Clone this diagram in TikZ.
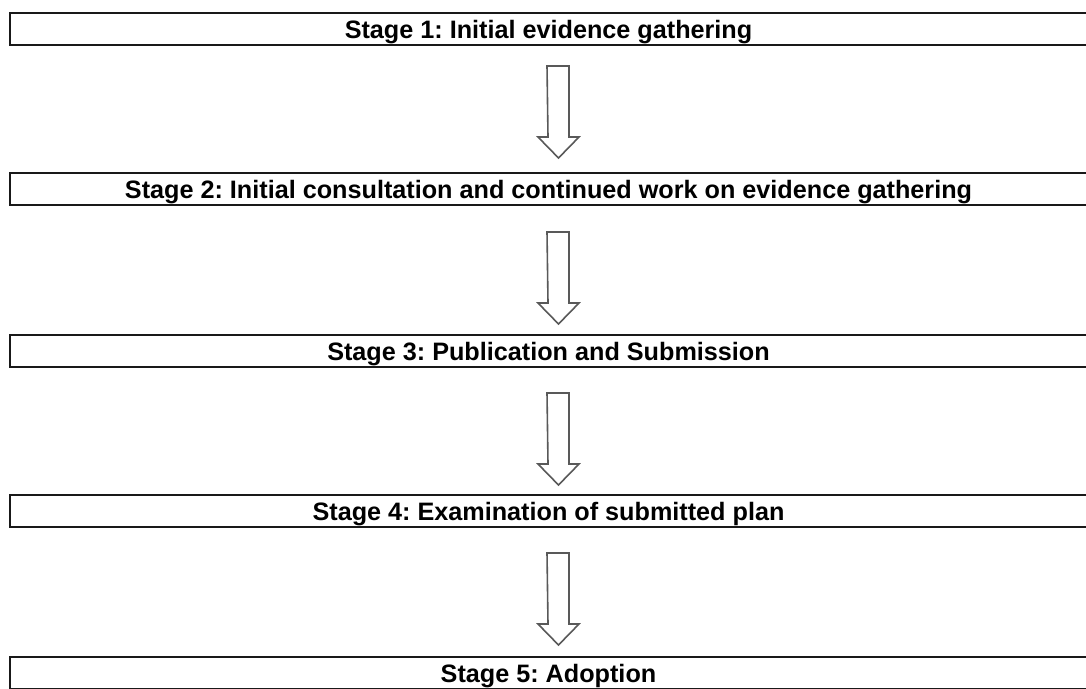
\documentclass[tikz,border=0pt]{standalone}
\usepackage{fontspec}
\setmainfont{Liberation Sans}
\frenchspacing
\begin{document}
\begin{tikzpicture}[x=1pt,y=-1pt,
  stagebox/.style={draw=black!90,line width=2pt,minimum width=1077pt,minimum height=32pt,
    inner sep=0pt,text height=18pt,text depth=0pt,font=\bfseries\fontsize{25.2}{28}\selectfont},
  blockarrow/.style={draw=black!65,line width=1.6pt,fill=white,line join=miter}]
\useasboundingbox (0,0) rectangle (1086,688);
\begin{scope}
\clip (0,0) rectangle (1086,688);
\node[stagebox] (s1) at (548.5,29) {Stage 1: Initial evidence gathering};
\node[stagebox] (s2) at (548.5,189) {Stage 2: Initial consultation and continued work on evidence gathering};
\node[stagebox] (s3) at (548.5,351) {Stage 3: Publication and Submission};
\node[stagebox] (s4) at (548.5,511) {Stage 4: Examination of submitted plan};
\node[stagebox] (s5) at (548.5,673) {Stage 5: Adoption};
\foreach \t [count=\i] in {66,232,393,553}{
  \coordinate (a\i) at (558,\t);
  \draw[blockarrow] (a\i) ++(-11,0) -- ++(22,0) -- ++(0,71) -- ++(10,0) -- ++(-20.5,21)
     -- ++(-20.5,-21) -- ++(10,0) -- cycle;
}
\end{scope}
\end{tikzpicture}
\end{document}
